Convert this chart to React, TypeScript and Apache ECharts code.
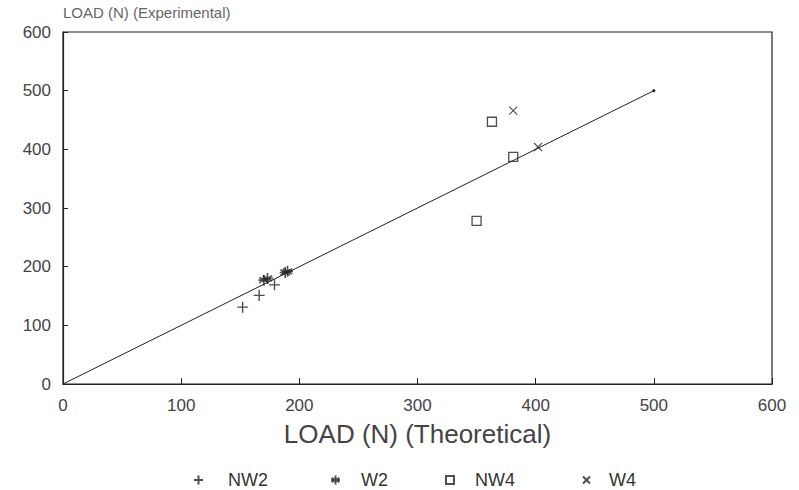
import React, { useEffect, useRef } from "react";
import * as echarts from "echarts";

const nw2: number[][] = [[152, 131], [166, 151], [179, 169]];
const w2: number[][] = [[170, 177], [173, 180], [188, 190], [190, 192]];
const nw4: number[][] = [[350, 278], [363, 447], [381, 387]];
const w4: number[][] = [[381, 466], [402, 404]];
const refLine: number[][] = [[0, 0], [500, 500]];

const PLUS = "path://M5 0 L5 10 M0 5 L10 5";
const STAR = "path://M5 0 L5 10 M0.7 2.5 L9.3 7.5 M0.7 7.5 L9.3 2.5 M0 5 L10 5";
const CROSS = "path://M0 0 L10 10 M10 0 L0 10";
const SQUARE = "path://M0 0 L10 0 L10 10 L0 10 Z";

export default function App() {
  const ref = useRef<HTMLDivElement>(null);
  useEffect(() => {
    if (!ref.current) return;
    const chart = echarts.init(ref.current, null, { renderer: "svg" });
    const ink = "#222";
    const font = "Liberation Sans, Arial, sans-serif";
    const mk = (name: string, data: number[][], symbol: string, size: number, bw: number) => ({
      name,
      type: "scatter",
      data,
      symbol,
      symbolSize: size,
      itemStyle: { color: "rgba(0,0,0,0)", borderColor: ink, borderWidth: bw },
    });
    const legendItem = (name: string, left: number, icon: string, gap: number, size: number) => ({
      data: [{ name, icon }],
      left,
      top: 469,
      padding: 2,
      itemWidth: size,
      itemHeight: size,
      textStyle: { fontSize: 18, color: "#333", fontFamily: font, padding: [0, 0, 0, gap] },
      selectedMode: false,
    });
    chart.setOption({
      animation: false,
      backgroundColor: "#fff",
      grid: {
        left: 63,
        right: 27,
        top: 32,
        bottom: 106,
        show: true,
        borderColor: ink,
        borderWidth: 1.2,
      },
      legend: [
        legendItem("NW2", 191, PLUS, 20, 9),
        legendItem("W2", 328, STAR, 16, 9),
        legendItem("NW4", 443, SQUARE, 16, 8),
        legendItem("W4", 580, CROSS, 14, 7),
      ],
      xAxis: {
        type: "value",
        min: 0,
        max: 600,
        interval: 100,
        name: "LOAD (N) (Theoretical)",
        nameLocation: "middle",
        nameGap: 37,
        nameTextStyle: { fontSize: 26, color: "#444", fontFamily: font },
        axisLine: { show: true, lineStyle: { color: ink, width: 1.2 } },
        axisTick: { show: true, inside: true, length: 6, lineStyle: { color: ink } },
        axisLabel: { fontSize: 17, color: "#444", fontFamily: font, margin: 13 },
        splitLine: { show: false },
      },
      yAxis: {
        type: "value",
        min: 0,
        max: 600,
        interval: 100,
        name: "LOAD (N) (Experimental)",
        nameLocation: "end",
        nameGap: 12,
        nameTextStyle: { fontSize: 15, color: "#666", fontFamily: font, align: "left" },
        axisLine: { show: true, lineStyle: { color: ink, width: 1.2 } },
        axisTick: { show: true, inside: true, length: 5, lineStyle: { color: ink } },
        axisLabel: { fontSize: 17, color: "#444", fontFamily: font, margin: 12 },
        splitLine: { show: false },
      },
      series: [
        {
          name: "ref",
          type: "line",
          data: refLine,
          symbol: "circle",
          symbolSize: (_v: any, p: any) => (p.dataIndex === 1 ? 3 : 0),
          lineStyle: { color: ink, width: 1 },
          itemStyle: { color: ink },
          silent: true,
        },
        mk("NW2", nw2, PLUS, 11, 1.4),
        mk("W2", w2, STAR, 11, 1.6),
        mk("NW4", nw4, SQUARE, 9, 1.3),
        mk("W4", w4, CROSS, 8, 1.1),
      ],
    });
    return () => chart.dispose();
  }, []);
  return <div ref={ref} style={{ width: 799, height: 490, position: "absolute", left: 0, top: 0 }} />;
}
